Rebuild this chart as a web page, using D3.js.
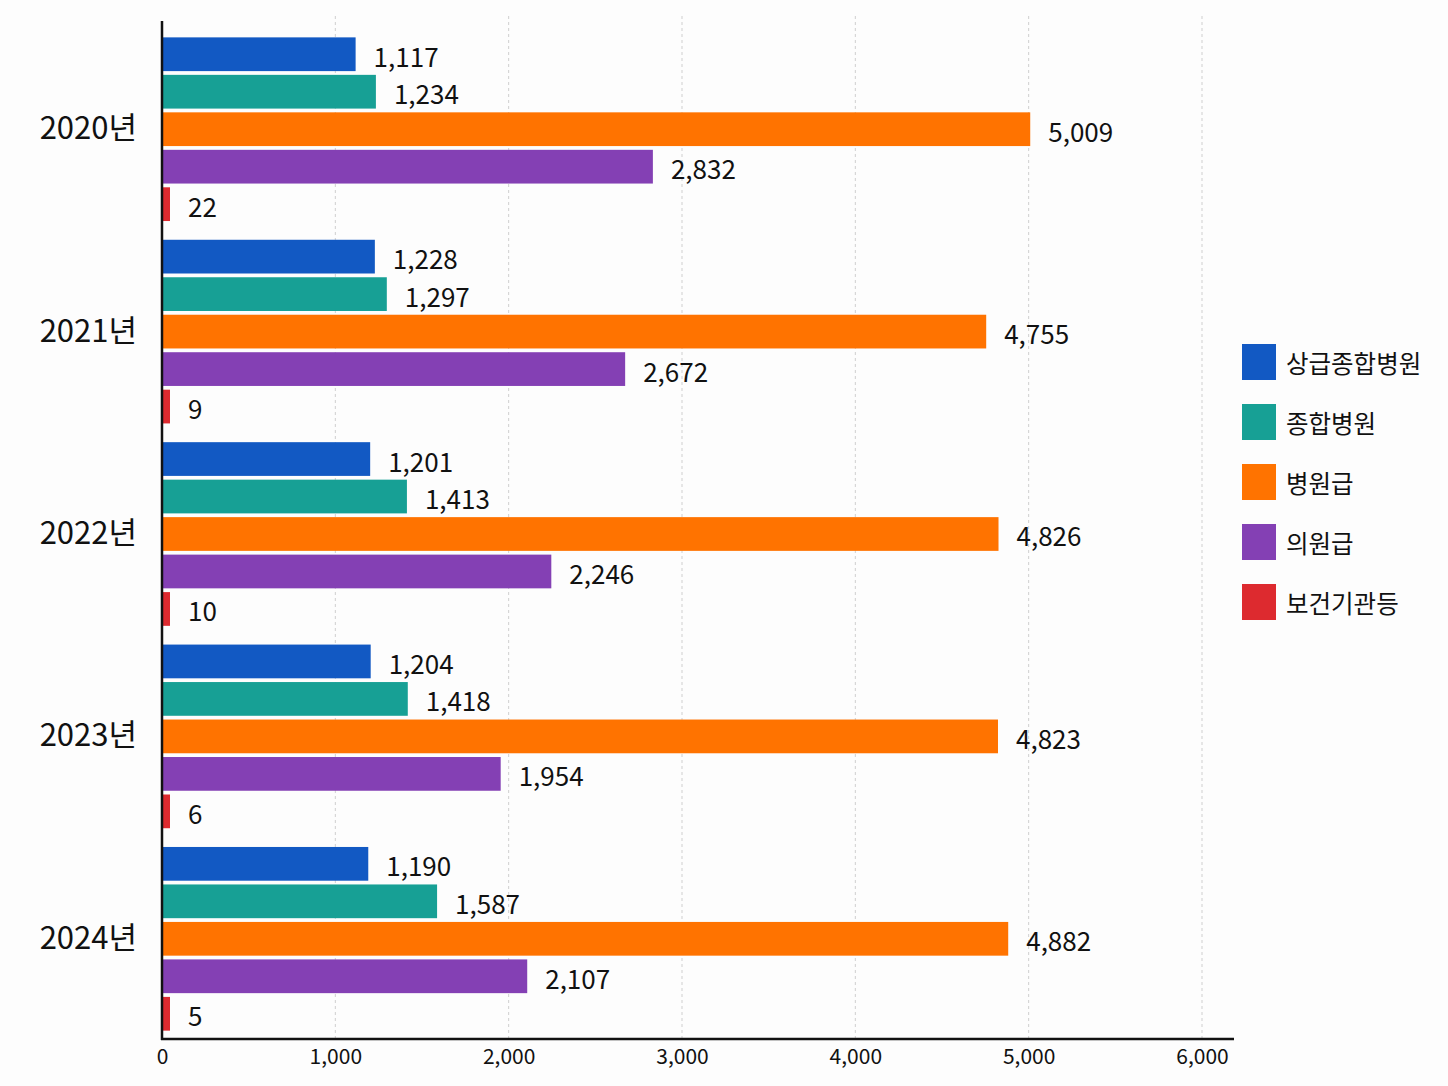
<!DOCTYPE html>
<html><head><meta charset="utf-8">
<script src="https://cdn.jsdelivr.net/npm/d3@7"></script>
<style>
html,body{margin:0;padding:0;background:#fdfdfd;}
text{font-family:"Noto Sans CJK KR","Noto Sans",sans-serif;fill:#111;}
</style></head>
<body><svg id="c" width="1448" height="1086"></svg>
<script>
const years = ['2020년','2021년','2022년','2023년','2024년'];
const seriesNames = ['상급종합병원','종합병원','병원급','의원급','보건기관등'];
const seriesColors = ['#1259c3','#17a095','#ff7300','#8440b4','#dd2a2f'];
const vSangeup = [1117,1228,1201,1204,1190];
const vJonghap = [1234,1297,1413,1418,1587];
const vByeongwon = [5009,4755,4826,4823,4882];
const vUiwon = [2832,2672,2246,1954,2107];
const vBogeon = [22,9,10,6,5];
const xTicks = [0,1000,2000,3000,4000,5000,6000];

const seriesValues = [vSangeup,vJonghap,vByeongwon,vUiwon,vBogeon];
const svg = d3.select('#c');
const fmt = d3.format(',');

const x = d3.scaleLinear().domain([0,6000]).range([162,1202]);
const y0 = d3.scaleBand().domain(years).range([28,1040]).padding(0);
const y1 = d3.scaleBand().domain(seriesNames).range([0,y0.bandwidth()]).paddingInner(0.1).paddingOuter(0.25);

// gridlines
svg.append('g').selectAll('line').data(xTicks.slice(1)).join('line')
  .attr('x1',d=>x(d)).attr('x2',d=>x(d)).attr('y1',16).attr('y2',1038)
  .attr('stroke','#cfcfcf').attr('stroke-width',1).attr('stroke-dasharray','3,3');

// bars
const groups = svg.append('g').selectAll('g').data(years).join('g')
  .attr('transform',d=>`translate(0,${y0(d)})`);
groups.each(function(yr,i){
  const g = d3.select(this);
  const rows = seriesNames.map((s,j)=>({s, v:seriesValues[j][i], c:seriesColors[j]}));
  g.selectAll('rect').data(rows).join('rect')
    .attr('x',x(0)).attr('y',d=>y1(d.s))
    .attr('width',d=>Math.max(x(d.v)-x(0),8))
    .attr('height',y1.bandwidth())
    .attr('fill',d=>d.c);
  g.selectAll('text').data(rows).join('text')
    .attr('x',d=>x(0)+Math.max(x(d.v)-x(0),8)+18)
    .attr('y',d=>y1(d.s)+y1.bandwidth()/2+1)
    .attr('dominant-baseline','central')
    .attr('font-size',26)
    .text(d=>fmt(d.v));
});

// x axis
const xAxis = d3.axisBottom(x).tickValues(xTicks).tickFormat(fmt).tickSize(0).tickPadding(10);
const gx = svg.append('g').attr('transform','translate(0,1039)').call(xAxis);
gx.select('.domain').remove();
gx.selectAll('text').attr('font-size',21).attr('fill','#111')
  .style('font-family','"Noto Sans CJK KR","Noto Sans",sans-serif');
svg.append('line').attr('x1',161).attr('x2',1234).attr('y1',1039).attr('y2',1039)
  .attr('stroke','#111').attr('stroke-width',2.5);

// y axis
const yAxis = d3.axisLeft(y0).tickSize(0).tickPadding(25);
const gy = svg.append('g').attr('transform','translate(162,0)').call(yAxis);
gy.select('.domain').remove();
gy.selectAll('text').attr('font-size',31).attr('fill','#111')
  .style('font-family','"Noto Sans CJK KR","Noto Sans",sans-serif');
svg.append('line').attr('x1',162).attr('x2',162).attr('y1',21).attr('y2',1040)
  .attr('stroke','#111').attr('stroke-width',2.5);

// legend
const leg = svg.append('g').selectAll('g').data(seriesNames).join('g')
  .attr('transform',(d,i)=>`translate(1242,${344+i*60})`);
leg.append('rect').attr('width',34).attr('height',36).attr('fill',(d,i)=>seriesColors[i]);
leg.append('text').attr('x',44).attr('y',18).attr('dominant-baseline','central')
  .attr('font-size',24.5).text(d=>d);
</script></body></html>
